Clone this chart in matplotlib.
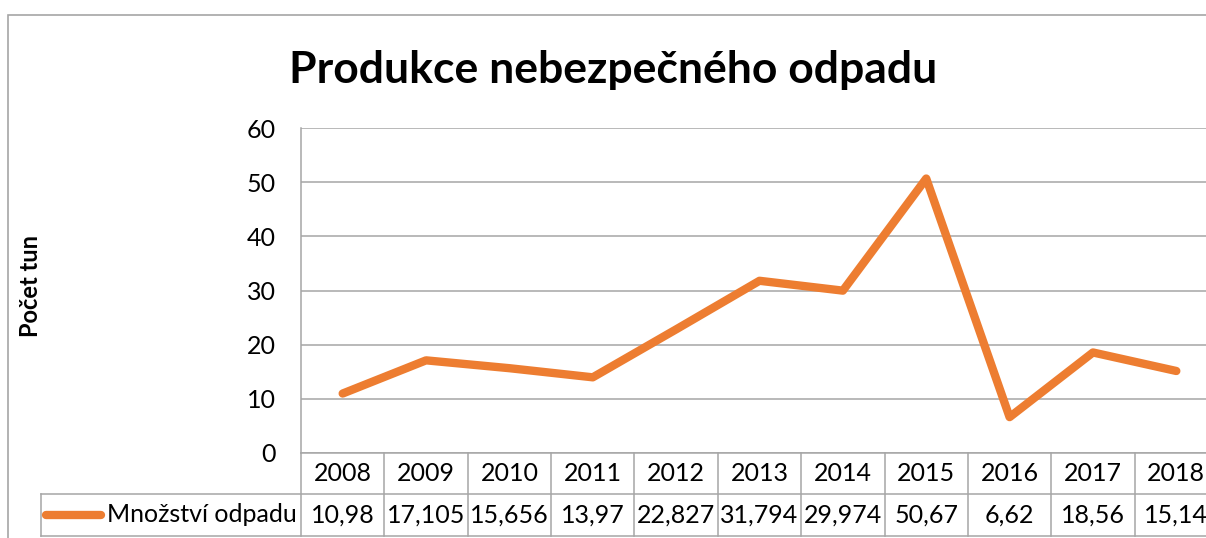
import matplotlib
matplotlib.use('Agg')
import matplotlib.pyplot as plt
import matplotlib.transforms as mtransforms
from matplotlib.patches import Rectangle

plt.rcParams['font.family'] = ['Lato', 'DejaVu Sans']

# Data
years = ['2008', '2009', '2010', '2011', '2012', '2013', '2014', '2015', '2016', '2017', '2018']
amounts = [10.98, 17.105, 15.656, 13.97, 22.827, 31.794, 29.974, 50.67, 6.62, 18.56, 15.14]
series_name = 'Množství odpadu'
title = 'Produkce nebezpečného odpadu'
y_label = 'Počet tun'
y_ticks = [0, 10, 20, 30, 40, 50, 60]

ORANGE = '#ED7D31'
GRID = '#a6a6a6'
W, H = 1206, 538
FS = 18

fig = plt.figure(figsize=(W / 100, H / 100), dpi=100)

# Outer chart border (runs off the right and bottom edge of the crop)
fig.patches.append(Rectangle((8 / W, -0.1), 1.2, 1 - 15 / H + 0.1, transform=fig.transFigure,
                             fill=False, edgecolor=GRID, lw=1.2))

# Plot area in pixel coordinates, converted to figure fractions
left, right, top, bottom = 301, 1218, 128, 453
ax = fig.add_axes([left / W, 1 - bottom / H, (right - left) / W, (bottom - top) / H])

x = list(range(len(years)))
ax.plot(x, amounts, color=ORANGE, lw=6, solid_capstyle='round', solid_joinstyle='round',
        zorder=3)

ax.set_xlim(-0.5, len(years) - 0.5)
ax.set_ylim(0, 60)
ax.set_yticks(y_ticks)
ax.set_yticklabels([str(t) for t in y_ticks], fontsize=FS)
ax.tick_params(axis='y', length=0, pad=18)
ax.set_xticks([])
ax.grid(axis='y', color=GRID, lw=1.1)
ax.set_axisbelow(True)
for side in ['top', 'right', 'bottom']:
    ax.spines[side].set_visible(False)
ax.spines['left'].set_color(GRID)
ax.spines['left'].set_linewidth(1.1)

# Data table under the plot: x in data units, y in axes units
trans = mtransforms.blended_transform_factory(ax.transData, ax.transAxes)
row1 = -41 / (bottom - top)
row2 = -83 / (bottom - top)
cell_w = (right - left) / len(years)
key_left = -0.5 - (left - 41) / cell_w
line_kw = dict(color=GRID, lw=1.1, transform=trans, clip_on=False)

for i in range(len(years) + 1):
    ax.plot([i - 0.5, i - 0.5], [0, row2], **line_kw)
ax.plot([-0.5, len(years) - 0.5], [0, 0], **line_kw)
ax.plot([key_left, len(years) - 0.5], [row1, row1], **line_kw)
ax.plot([key_left, len(years) - 0.5], [row2, row2], **line_kw)
ax.plot([key_left, key_left], [row1, row2], **line_kw)

for i, (yr, val) in enumerate(zip(years, amounts)):
    ax.text(i, row1 / 2, yr, transform=trans, ha='center', va='center', fontsize=FS)
    ax.text(i, (row1 + row2) / 2, str(val).replace('.', ','), transform=trans,
            ha='center', va='center', fontsize=FS)

# Legend key inside the table
key_x0 = key_left + 5 / cell_w
key_x1 = key_left + 60 / cell_w
ax.plot([key_x0, key_x1], [(row1 + row2) / 2] * 2, color=ORANGE, lw=6,
        solid_capstyle='round', transform=trans, clip_on=False)
ax.text(key_left + 66 / cell_w, (row1 + row2) / 2, series_name, transform=trans,
        ha='left', va='center', fontsize=FS)

fig.text(613 / W, 1 - 70 / H, title, ha='center', va='center', fontsize=32, fontweight='bold')
fig.text(31 / W, 1 - 286 / H, y_label, ha='center', va='center', rotation=90,
         fontsize=17, fontweight='bold')

fig.savefig('out.png', dpi=100)
